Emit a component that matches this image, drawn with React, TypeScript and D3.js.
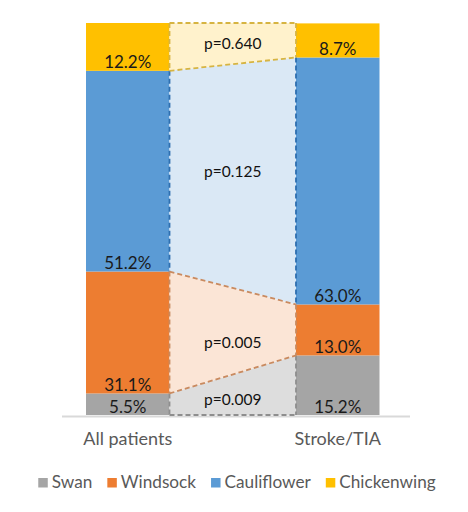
import React, { useEffect, useRef } from "react";
import * as d3 from "d3";

const groups = ["All patients", "Stroke/TIA"];
const seriesNames = ["Swan", "Windsock", "Cauliflower", "Chickenwing"];
const allPatients = [5.5, 31.1, 51.2, 12.2];
const strokeTIA = [15.2, 13.0, 63.0, 8.7];
const pValues = ["p=0.009", "p=0.005", "p=0.125", "p=0.640"];

const barColors = ["#A5A5A5", "#ED7D31", "#5B9BD5", "#FFC000"];
const bandFills = ["#DDDDDD", "#FBE5D6", "#DAE8F5", "#FFF2CC"];
const bandStrokes = ["#8E8E8E", "#C98A5F", "#2E6FB0", "#D6B442"];
// colour of the boundary lines from bottom (0) to top (4)
const boundaryStrokes = ["#8E8E8E", "#C98A5F", "#C98A5F", "#D6B442", "#D6B442"];
const FONT = "Lato, 'Open Sans', sans-serif";

export default function App() {
  const ref = useRef<SVGSVGElement | null>(null);

  useEffect(() => {
    const svg = d3.select(ref.current);
    svg.selectAll("*").remove();

    const W = 468, H = 512;
    const y = d3.scaleLinear().domain([0, 100]).range([415, 23]);
    const xb = d3.scaleOrdinal<string, number>().domain(groups).range([86, 296]);
    const bw = 83.5;

    const data = [allPatients, strokeTIA];
    const stacks = data.map((vals) => {
      let acc = 0;
      return vals.map((v) => {
        const s = acc;
        acc += v;
        return [s, acc];
      });
    });

    svg.append("rect").attr("width", W).attr("height", H).attr("fill", "#fff");

    // axis line
    svg.append("line")
      .attr("x1", 62).attr("x2", 410)
      .attr("y1", 416.5).attr("y2", 416.5)
      .attr("stroke", "#D9D9D9").attr("stroke-width", 2);

    // bars
    groups.forEach((g, gi) => {
      stacks[gi].forEach(([s, e], si) => {
        svg.append("rect")
          .attr("x", xb(g))
          .attr("y", y(e))
          .attr("width", bw)
          .attr("height", y(s) - y(e))
          .attr("fill", barColors[si]);
      });
    });

    const xl = (xb(groups[0]) as number) + bw;
    const xr = xb(groups[1]) as number;
    const n = seriesNames.length;
    const topL = (i: number) => (i === n - 1 ? y(100) : y(stacks[0][i][1]));
    const topR = (i: number) => (i === n - 1 ? y(100) : y(stacks[1][i][1]));
    const botL = (i: number) => y(stacks[0][i][0]);
    const botR = (i: number) => y(stacks[1][i][0]);

    // band fills
    seriesNames.forEach((_, si) => {
      const pts: [number, number][] = [
        [xl, topL(si)], [xr, topR(si)], [xr, botR(si)], [xl, botL(si)],
      ];
      svg.append("path")
        .attr("d", d3.line()(pts) + "Z")
        .attr("fill", bandFills[si]);
    });

    const dashed = (x1: number, y1: number, x2: number, y2: number, c: string) =>
      svg.append("line")
        .attr("x1", x1).attr("y1", y1).attr("x2", x2).attr("y2", y2)
        .attr("stroke", c)
        .attr("stroke-width", 1.8)
        .attr("stroke-dasharray", "5,3");

    // vertical edges
    seriesNames.forEach((_, si) => {
      dashed(xl, topL(si), xl, botL(si), bandStrokes[si]);
      dashed(xr, topR(si), xr, botR(si), bandStrokes[si]);
    });
    // boundary edges
    for (let k = 0; k <= n; k++) {
      const yl = k === n ? y(100) : botL(k);
      const yr = k === n ? y(100) : botR(k);
      dashed(xl, yl, xr, yr, boundaryStrokes[k]);
    }

    // p labels
    const pOffs = [5, 12, -4, 0];
    seriesNames.forEach((_, si) => {
      const top = (topL(si) + topR(si)) / 2;
      const bot = (botL(si) + botR(si)) / 2;
      svg.append("text")
        .attr("x", (xl + xr) / 2)
        .attr("y", (top + bot) / 2 + 5 + pOffs[si])
        .attr("text-anchor", "middle")
        .attr("font-family", FONT)
        .attr("font-size", 15.5)
        .attr("fill", "#111")
        .text(pValues[si]);
    });

    // value labels (inside base)
    groups.forEach((g, gi) => {
      stacks[gi].forEach(([s], si) => {
        const v = data[gi][si];
        svg.append("text")
          .attr("x", (xb(g) as number) + bw / 2)
          .attr("y", y(s) - 2.5)
          .attr("text-anchor", "middle")
          .attr("font-family", FONT)
          .attr("font-size", 17)
          .attr("fill", "#1a1a1a")
          .text(v.toFixed(1) + "%");
      });
    });

    // category labels
    groups.forEach((g) => {
      svg.append("text")
        .attr("x", (xb(g) as number) + bw / 2)
        .attr("y", 445)
        .attr("text-anchor", "middle")
        .attr("font-family", FONT)
        .attr("font-size", 18)
        .attr("fill", "#595959")
        .text(g);
    });

    // legend
    const leg = svg.append("g");
    let cx = 0;
    seriesNames.forEach((nm, i) => {
      const it = leg.append("g").attr("transform", `translate(${cx},0)`);
      it.append("rect").attr("x", 0).attr("y", -10).attr("width", 9.5).attr("height", 9.5).attr("fill", barColors[i]);
      const t = it.append("text")
        .attr("x", 13.5).attr("y", 0)
        .attr("font-family", FONT)
        .attr("font-size", 17.2)
        .attr("fill", "#595959")
        .text(nm);
      const w = (t.node() as SVGTextElement).getComputedTextLength();
      cx += 13.5 + w + 15;
    });
    const total = cx - 15;
    leg.attr("transform", `translate(${237 - total / 2},488)`);
  }, []);

  return <svg ref={ref} width={468} height={512} style={{ display: "block", margin: "-8px" }} />;
}
